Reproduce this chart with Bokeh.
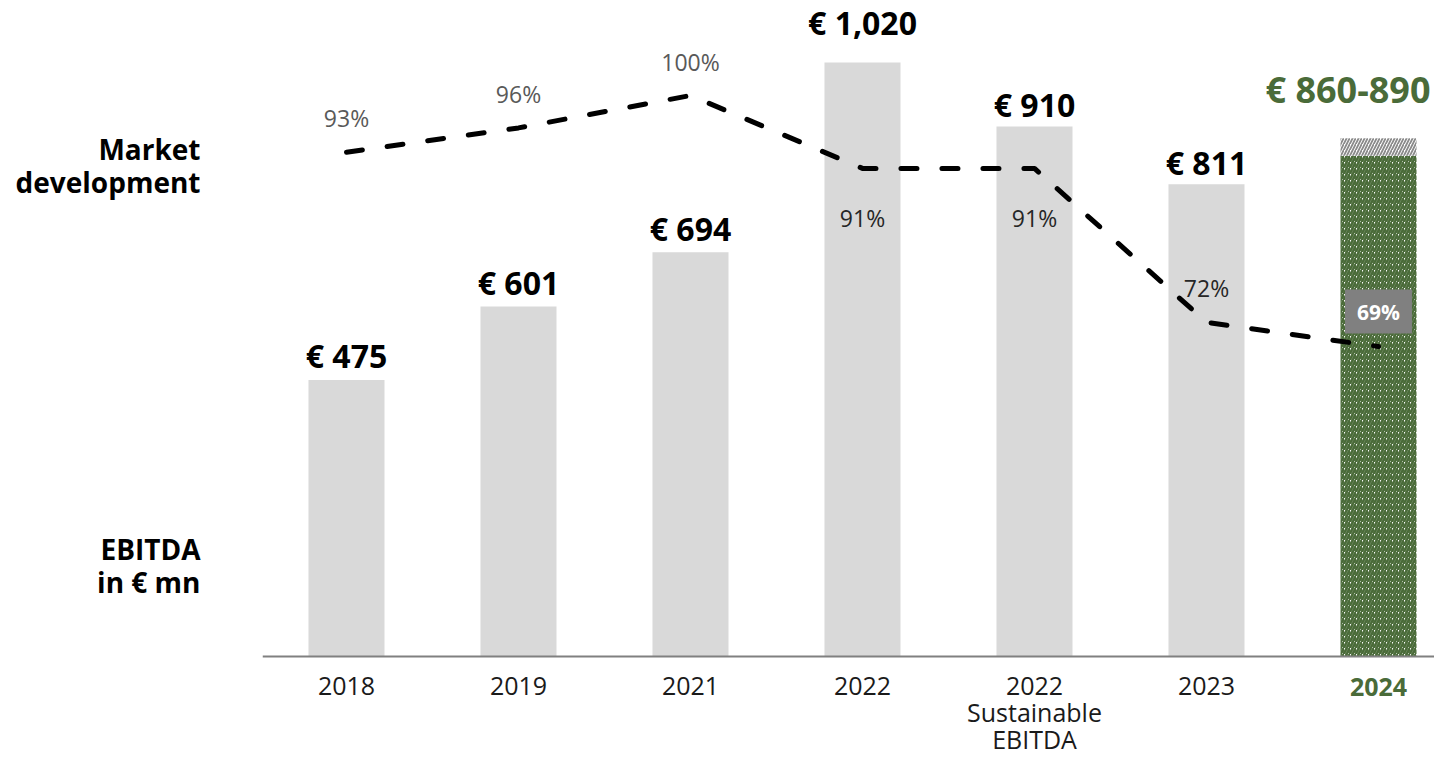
from bokeh.plotting import figure
from bokeh.models import Range1d, FixedTicker
from bokeh.core.properties import value
from bokeh.embed import file_html
from bokeh.resources import INLINE

# ---------------- data ----------------
categories = ["2018", "2019", "2021", "2022", "2022\nSustainable\nEBITDA", "2023", "2024"]
ebitda = [475, 601, 694, 1020, 910, 811]
ebitda_labels = ["€ 475", "€ 601", "€ 694", "€ 1,020", "€ 910", "€ 811"]
forecast_low = [860]
forecast_high = [890]
forecast_label = ["€ 860-890"]
market = [93, 96, 100, 91, 91, 72, 69]
market_labels = ["93%", "96%", "100%", "91%", "91%", "72%", "69%"]
row_labels = ["Market\ndevelopment", "EBITDA\nin € mn"]

# ---------------- styles / layout ----------------
FONT = "Open Sans"
GREEN = "#4a6b39"
BAR_GRAY = "#d9d9d9"
W, H = 1434, 756
FRAME_L = 262          # left edge of plotting area (px)
BASE_PX = 656          # baseline of bars (px from top)
step_px = 172.0        # distance between categories
first_px = 346.0       # centre of first category
units_per_px = 1020 / 594.0
x_start = -(first_px - FRAME_L) / step_px
x_end = x_start + (W - FRAME_L) / step_px
y_start = -(H - BASE_PX) * units_per_px
y_end = BASE_PX * units_per_px
pct_px = 8.1           # px per percentage point
pct_ref_y = 95         # px position of 100 %
pct_end = 100 + pct_ref_y / pct_px
pct_start = 100 - (H - pct_ref_y) / pct_px

xs = list(range(len(categories)))
n = len(ebitda)

p = figure(width=W, height=H, output_backend="svg", toolbar_location=None,
           x_range=Range1d(x_start, x_end), y_range=Range1d(y_start, y_end),
           min_border_left=FRAME_L, min_border_right=0, min_border_top=0,
           min_border_bottom=0, outline_line_color=None)
p.extra_y_ranges = {"pct": Range1d(pct_start, pct_end)}
p.grid.visible = False

# bars
BW = 0.442
p.vbar(x=xs[:n], top=ebitda, bottom=0, width=BW, fill_color=BAR_GRAY, line_color=None)
p.vbar(x=xs[n:], top=forecast_low, bottom=0, width=BW,
       fill_color="white", line_color=None, hatch_pattern="/",
       hatch_color=GREEN, hatch_scale=6, hatch_weight=2.6)
p.vbar(x=xs[n:], top=forecast_high, bottom=forecast_low, width=BW,
       fill_color="white", line_color=None, hatch_pattern="/",
       hatch_color="#8a8a8a", hatch_weight=1.8, hatch_scale=6)

# bar value labels
gaps = [24, 24, 24, 40, 22, 22]
p.text(x=xs[:n], y=ebitda, text=ebitda_labels,
       y_offset=[-g for g in gaps], text_align="center", text_baseline="alphabetic",
       text_font=value(FONT), text_font_style="bold", text_font_size="32px",
       text_color="black")
p.text(x=xs[n:], y=forecast_high, text=forecast_label, y_offset=-49, x_offset=52,
       text_align="right", text_baseline="alphabetic", text_font=value(FONT),
       text_font_style="bold", text_font_size="36px", text_color=GREEN)

# market development line
p.line(x=xs, y=market, y_range_name="pct", line_color="black", line_width=5,
       line_dash="16 25", line_cap="round", line_join="round")

placement = ["above", "above", "above", "below", "below", "above", "box"]
for i, (xv, yv, lab, pl) in enumerate(zip(xs, market, market_labels, placement)):
    if pl == "box":
        p.text(x=[xv], y=[yv], text=[lab], y_range_name="pct", y_offset=-35,
               text_align="center", text_baseline="middle", text_font=value(FONT),
               text_font_style="bold", text_font_size="21px", text_color="white",
               background_fill_color="#808080",
               padding=dict(left=12, right=12, top=8, bottom=8))
    else:
        col = "#262626" if i >= 3 else "#595959"
        off = -34 if pl == "above" else 50
        p.text(x=[xv], y=[yv], text=[lab], y_range_name="pct", y_offset=off,
               text_align="center", text_baseline="middle", text_font=value(FONT),
               text_font_size="23px", text_color=col)

# x axis, fixed at the bar baseline
xa = p.xaxis[0]
xa.fixed_location = 0
xa.ticker = FixedTicker(ticks=xs)
xa.major_label_overrides = {i: (c if i < len(categories) - 1 else "") for i, c in enumerate(categories)}
xa.axis_line_color = "#808080"
xa.axis_line_width = 2
xa.major_tick_line_color = None
xa.minor_tick_line_color = None
xa.major_label_text_font = FONT
xa.major_label_text_font_size = "25px"
xa.major_label_text_color = "#1a1a1a"
xa.major_label_standoff = 5
xa.major_label_text_line_height = 0.8

# last category label (bold green forecast year)
p.text(x=xs[-1:], y=[0], text=categories[-1:], y_offset=30,
       text_align="center", text_baseline="middle", text_font=value(FONT),
       text_font_style="bold", text_font_size="25px", text_color=GREEN)

# y axis used for the row captions
t_market = (BASE_PX - 165) * units_per_px
t_ebitda = (BASE_PX - 565) * units_per_px
ya = p.yaxis[0]
ya.ticker = FixedTicker(ticks=[t_market, t_ebitda])
ya.major_label_overrides = {t_market: row_labels[0], t_ebitda: row_labels[1]}
ya.axis_line_color = None
ya.major_tick_line_color = None
ya.minor_tick_line_color = None
ya.major_label_text_font = FONT
ya.major_label_text_font_style = "bold"
ya.major_label_text_font_size = "28px"
ya.major_label_text_color = "black"
ya.major_label_standoff = 56
ya.major_label_text_line_height = 0.88

open("out.html", "w").write(file_html(p, INLINE))
